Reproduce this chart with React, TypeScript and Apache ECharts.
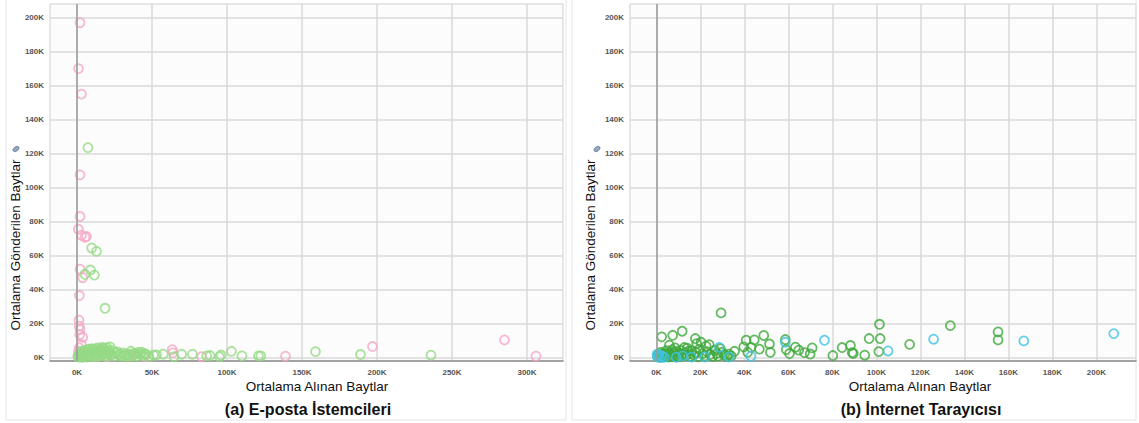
import React, { useEffect, useRef } from 'react';
import * as echarts from 'echarts';

// ---- data: (a) E-posta İstemcileri ----
const emailPink: number[][] = [
  [2000, 197000], [1000, 170000], [3000, 155000], [2000, 107500], [2000, 83000],
  [900, 75500], [3000, 72000], [5300, 70800], [6400, 71200], [2000, 52000],
  [3800, 47000], [1600, 36500], [1300, 22000], [1500, 18500], [2000, 16500],
  [1800, 13500], [3800, 12000], [3000, 7600], [1500, 5700], [1000, 3700],
  [2500, 1500], [4000, 600], [8000, 2000], [12000, 1000], [20000, 500],
  [35000, 1000], [45000, 600], [63500, 4700], [64000, 2800], [83000, 500],
  [139000, 800], [197000, 6500], [285000, 10400], [306000, 800],
];
const emailGreen: number[][] = [
  [7300, 123500], [9800, 64500], [13000, 62500], [9000, 51500], [5300, 49000],
  [11600, 48500], [18700, 29000],
  [500, 500], [1000, 1500], [1500, 300], [2000, 2500], [2500, 1000], [3000, 3500],
  [3500, 200], [4000, 1800], [4500, 4000], [5000, 800], [5500, 2800], [6000, 1500],
  [6500, 4500], [7000, 300], [7500, 3000], [8000, 5000], [8500, 1200], [9000, 3800],
  [9500, 2000], [10000, 5200], [10500, 600], [11000, 3200], [11500, 4800], [12000, 1800],
  [12500, 4200], [13000, 500], [13500, 5600], [14000, 2600], [14500, 3800], [15000, 1000],
  [15500, 5000], [16000, 3000], [16500, 6000], [17000, 1500], [17500, 4200], [18000, 5500],
  [18500, 2400], [19000, 700], [19500, 3600], [20000, 5800], [20500, 1800], [21000, 4400],
  [21500, 3000], [22000, 6300], [22500, 1200], [23000, 2200], [24000, 4000], [25000, 900],
  [26000, 2600], [27000, 3300], [28000, 1500], [29000, 2000], [30000, 700], [31000, 2800],
  [32000, 1200], [33000, 2000], [34000, 400], [35000, 1800], [36000, 3700], [37000, 1000],
  [38000, 2500], [39000, 2200], [40000, 800], [41000, 3000], [42000, 2000], [43000, 3200],
  [44000, 1200], [45000, 2500], [46000, 1800], [48000, 600],
  [51000, 1500], [53000, 1500], [57500, 2000], [64700, 500], [69800, 2000], [77000, 2000],
  [86500, 1000], [88700, 1200], [95000, 500], [96000, 1500], [103000, 3700], [110000, 1000],
  [121000, 1000], [122500, 1000], [159000, 3500], [189000, 1800], [236000, 1400],
];

// ---- data: (b) İnternet Tarayıcısı ----
const browserGreen: number[][] = [
  [29400, 26300], [2400, 12200], [7400, 13100], [11700, 15500], [17700, 11200],
  [20300, 9000], [18300, 8200], [22600, 6700], [24000, 7600], [5900, 7300],
  [8500, 5700], [12700, 5900], [14500, 3700], [8000, 3300], [40800, 10200],
  [44500, 10400], [39700, 6300], [43000, 6000], [41500, 3100], [46800, 5000],
  [48800, 13000], [51400, 8000], [51800, 3100], [58600, 10600], [59000, 4700],
  [60500, 2400], [63200, 6100], [64700, 4400], [67300, 2900], [69900, 2100],
  [70800, 5700], [80200, 1200], [84400, 5900], [88200, 7100], [89000, 2900],
  [89500, 2400], [94700, 1400], [96700, 11200], [101400, 19600], [101700, 11200],
  [101100, 3500], [115100, 7800], [133600, 18800], [155300, 15100], [155300, 10400],
  [30000, 3100], [33000, 2000], [35500, 3700],
  [500, 500], [1000, 2000], [1500, 1000], [2000, 3000], [2500, 300], [3000, 1500],
  [3500, 2500], [4000, 700], [4500, 4000], [5000, 1800], [5500, 300], [6000, 2800],
  [6500, 1200], [7000, 4500], [7500, 600], [8500, 2000], [9000, 1000], [9500, 3500],
  [10000, 500], [10500, 2500], [11000, 4200], [11500, 1500], [12000, 700], [13000, 2800],
  [13500, 1200], [14000, 5500], [15000, 2200], [15500, 600], [16000, 4000], [17000, 1500],
  [18000, 3000], [19000, 500], [19500, 5000], [21000, 2300], [22000, 1000], [23000, 3500],
  [24500, 1800], [25500, 600], [26500, 4300], [27500, 2500], [28000, 900], [29000, 5200],
  [31000, 1500], [32000, 600], [34000, 1000],
];
const browserCyan: number[][] = [
  [28600, 6000], [43000, 800], [58600, 9000], [76400, 10200], [105300, 3900],
  [126000, 10800], [167000, 9800], [207900, 14100],
  [500, 500], [1000, 1500], [1500, 0], [2500, 800], [300, 2000], [3500, 200],
  [9000, 200], [12000, 1000], [16000, 300], [22000, 400], [33000, 400],
];

// ---- tick labels ----
const leftXTicks = [0, 50000, 100000, 150000, 200000, 250000, 300000];
const rightXTicks = [0, 20000, 40000, 60000, 80000, 100000, 120000, 140000, 160000, 180000, 200000];
const yTicks = [0, 20000, 40000, 60000, 80000, 100000, 120000, 140000, 160000, 180000, 200000];

const xName = 'Ortalama Alınan Baytlar';
const yName = 'Ortalama Gönderilen Baytlar';
const captionA = '(a) E-posta İstemcileri';
const captionB = '(b) İnternet Tarayıcısı';

const fmtK = (v: number) => Math.round(v / 1000) + 'K';
const FONT = "'Liberation Sans', Arial, sans-serif";

const labelStyle = { fontSize: 8, color: '#555', fontWeight: 'bold' as const, fontFamily: FONT };
const gridLine = { show: true, lineStyle: { color: '#dadada', width: 1.5 } };

function xAxisCfg(grid: number, min: number, max: number, ticks: number[]) {
  return {
    gridIndex: grid, type: 'value', min, max,
    axisLine: { show: true, onZero: false, lineStyle: { color: '#8c8c8c', width: 1.5 } },
    axisTick: { show: false, customValues: ticks },
    axisLabel: { ...labelStyle, customValues: ticks, formatter: fmtK, margin: 7 },
    splitLine: gridLine,
  };
}
function yAxisCfg(grid: number) {
  return {
    gridIndex: grid, type: 'value', min: -2000, max: 208000,
    axisLine: { show: false },
    axisTick: { show: false, customValues: yTicks },
    axisLabel: { ...labelStyle, customValues: yTicks, formatter: fmtK, margin: 6 },
    splitLine: gridLine,
  };
}

function scatter(data: number[][], color: string, grid: number, withZero: boolean) {
  const s: any = {
    type: 'scatter', data, xAxisIndex: grid, yAxisIndex: grid,
    symbol: 'circle', symbolSize: 9,
    itemStyle: { color: 'rgba(255,255,255,0)', borderColor: color, borderWidth: 1.8 },
    silent: true,
  };
  if (withZero) {
    s.markLine = {
      silent: true, symbol: ['none', 'none'], label: { show: false },
      lineStyle: { color: '#9a9a9a', width: 1.5, type: 'solid' },
      data: [{ xAxis: 0 }],
    };
  }
  return s;
}

function texts(cx: number, cyName: number, yNameX: number, iconX: number) {
  return [
    { type: 'text', x: cx, y: 386, style: { text: xName, fontSize: 13.5, fontFamily: FONT, fill: '#111', align: 'center', verticalAlign: 'middle' } },
    { type: 'text', x: yNameX, y: cyName, rotation: Math.PI / 2, style: { text: yName, fontSize: 13.5, fontFamily: FONT, fill: '#111', align: 'center', verticalAlign: 'middle' } },
    { type: 'ellipse', x: iconX, y: 149, rotation: Math.PI / 5, shape: { cx: 0, cy: 0, rx: 3.4, ry: 2.2 }, style: { fill: '#93a4bd', stroke: '#5a6f90', lineWidth: 0.6 } },
  ];
}

export default function App() {
  const ref = useRef<HTMLDivElement>(null);
  useEffect(() => {
    if (!ref.current) return;
    const chart = echarts.init(ref.current, null, { renderer: 'svg' });
    chart.setOption({
      animation: false,
      backgroundColor: '#ffffff',
      textStyle: { fontFamily: FONT },
      grid: [
        { left: 50, top: 4, width: 513, height: 357, show: true, borderColor: '#cfcfcf', borderWidth: 1, backgroundColor: '#fcfcfc' },
        { left: 630, top: 4, width: 506, height: 357, show: true, borderColor: '#cfcfcf', borderWidth: 1, backgroundColor: '#fcfcfc' },
      ],
      xAxis: [
        xAxisCfg(0, -18000, 324000, leftXTicks),
        xAxisCfg(1, -12000, 218000, rightXTicks),
      ],
      yAxis: [yAxisCfg(0), yAxisCfg(1)],
      series: [
        scatter(emailPink, '#f4a6c6', 0, true),
        scatter(emailGreen, '#95da85', 0, false),
        scatter(browserGreen, '#3ea83b', 1, true),
        scatter(browserCyan, '#3ec3e3', 1, false),
      ],
      graphic: [
        { type: 'rect', shape: { x: 6, y: -2, width: 560, height: 422 }, style: { fill: 'none', stroke: '#e2e5ec', lineWidth: 1 }, silent: true },
        { type: 'rect', shape: { x: 572, y: -2, width: 564, height: 422 }, style: { fill: 'none', stroke: '#e2e5ec', lineWidth: 1 }, silent: true },
        ...texts(317, 245, 15, 16),
        ...texts(920, 245, 590, 597),
        { type: 'text', x: 308, y: 409, style: { text: captionA, fontSize: 16, fontWeight: 'bold', fontFamily: FONT, fill: '#111', align: 'center', verticalAlign: 'middle' } },
        { type: 'text', x: 921, y: 409, style: { text: captionB, fontSize: 16, fontWeight: 'bold', fontFamily: FONT, fill: '#111', align: 'center', verticalAlign: 'middle' } },
      ],
    });
    return () => chart.dispose();
  }, []);
  return <div ref={ref} style={{ position: 'fixed', left: 0, top: 0, width: 1139, height: 423, background: '#fff' }} />;
}
